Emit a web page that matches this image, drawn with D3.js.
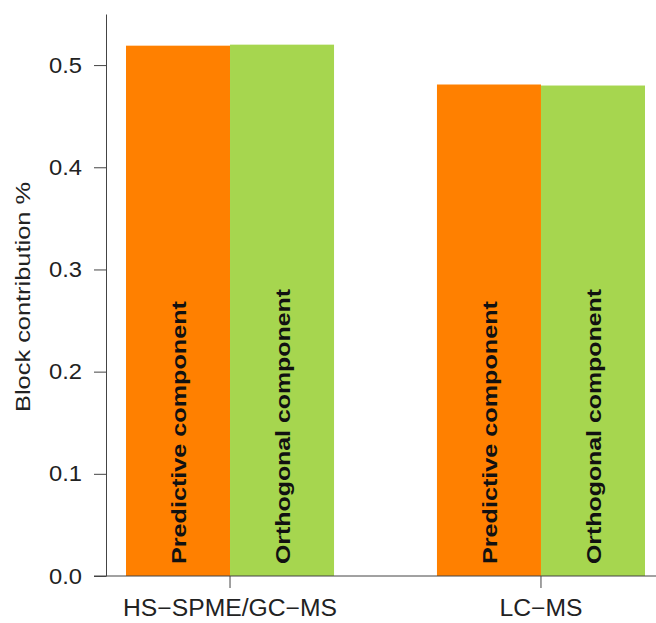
<!DOCTYPE html>
<html><head><meta charset="utf-8">
<script src="https://cdn.jsdelivr.net/npm/d3@7/dist/d3.min.js"></script>
<style>body{margin:0;background:#fff}</style>
</head><body><svg id="c" width="656" height="623"></svg>
<script>
const categories = ["HS−SPME/GC−MS", "LC−MS"];
const seriesNames = ["Predictive component", "Orthogonal component"];
const predictive = [0.519, 0.481];
const orthogonal = [0.520, 0.480];
const yTicks = [0, 0.1, 0.2, 0.3, 0.4, 0.5];
const colors = ["#FF8000", "#A6D64F"];
const yLabel = "Block contribution %";

const svg = d3.select("#c");
const font = "'Liberation Sans', Arial, sans-serif";
const axisColor = "#444";
const y = d3.scaleLinear().domain([0, 0.55]).range([576, 14]);
const x0 = d3.scaleBand().domain(categories).range([126, 645]).paddingInner(0.331).paddingOuter(0);
const x1 = d3.scaleBand().domain(seriesNames).range([0, x0.bandwidth()]);
const series = [predictive, orthogonal];

// bars
const rows = [];
categories.forEach((c, i) => seriesNames.forEach((s, j) => rows.push({c, s, j, v: series[j][i]})));
svg.append("g").selectAll("rect").data(rows).join("rect")
  .attr("x", d => x0(d.c) + x1(d.s))
  .attr("y", d => y(d.v))
  .attr("width", x1.bandwidth())
  .attr("height", d => y(0) - y(d.v))
  .attr("fill", d => colors[d.j]);

// bar labels
const labelLen = {"Predictive component": 263, "Orthogonal component": 275};
svg.append("g").selectAll("text").data(rows).join("text")
  .attr("transform", d => `translate(${x0(d.c) + x1(d.s) + x1.bandwidth()/2},564) rotate(-90)`)
  .attr("dy", "0.36em")
  .attr("text-anchor", "start")
  .attr("font-family", font).attr("font-weight", "bold").attr("font-size", 21)
  .attr("fill", "#111")
  .attr("textLength", d => labelLen[d.s]).attr("lengthAdjust", "spacingAndGlyphs")
  .text(d => d.s);

// y axis
const ya = svg.append("g").attr("transform", "translate(106,0)")
  .call(d3.axisLeft(y).tickValues(yTicks).tickFormat(d3.format(".1f")).tickSize(12).tickSizeOuter(0).tickPadding(12));
ya.select(".domain").attr("stroke", axisColor);
ya.selectAll(".tick line").attr("stroke", axisColor);
ya.selectAll(".tick text").attr("font-family", font).attr("font-size", 22).attr("fill", "#222")
  .attr("textLength", 33).attr("lengthAdjust", "spacingAndGlyphs");

// x axis
const xa = svg.append("g");
xa.append("line").attr("x1", 94).attr("x2", 656).attr("y1", y(0)).attr("y2", y(0)).attr("stroke", axisColor);
xa.selectAll("line.t").data(categories).join("line").attr("class", "t")
  .attr("x1", d => x0(d) + x0.bandwidth()/2).attr("x2", d => x0(d) + x0.bandwidth()/2)
  .attr("y1", y(0)).attr("y2", y(0) + 12).attr("stroke", axisColor);
const xLen = {"HS−SPME/GC−MS": 214, "LC−MS": 83};
xa.selectAll("text").data(categories).join("text")
  .attr("x", d => x0(d) + x0.bandwidth()/2).attr("y", 616)
  .attr("text-anchor", "middle")
  .attr("font-family", font).attr("font-size", 23).attr("fill", "#222")
  .attr("textLength", d => xLen[d]).attr("lengthAdjust", "spacingAndGlyphs")
  .text(d => d);

// y label
svg.append("text")
  .attr("transform", "translate(30,297) rotate(-90)")
  .attr("text-anchor", "middle")
  .attr("font-family", font).attr("font-size", 21).attr("fill", "#222")
  .attr("textLength", 230).attr("lengthAdjust", "spacingAndGlyphs")
  .text(yLabel);
</script></body></html>
